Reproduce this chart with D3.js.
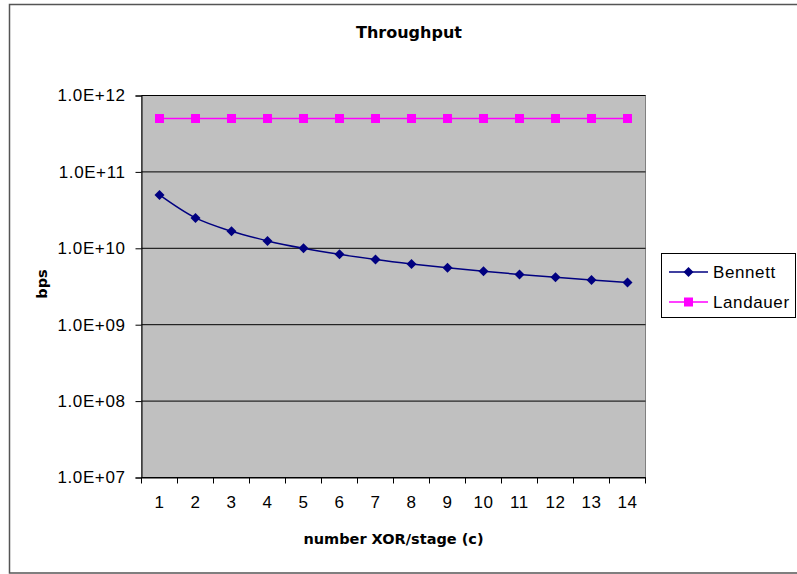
<!DOCTYPE html>
<html>
<head>
<meta charset="utf-8">
<script src="https://cdn.jsdelivr.net/npm/d3@7/dist/d3.min.js"></script>
<style>
  html, body { margin: 0; padding: 0; background: #fff; }
  svg { display: block; }
  .tick text { font-family: "Liberation Sans", Arial, sans-serif; }
</style>
</head>
<body>
<svg id="chart" width="797" height="574"></svg>
<script>
// Stages per XOR (category axis)
const categories = [1, 2, 3, 4, 5, 6, 7, 8, 9, 10, 11, 12, 13, 14];
// Throughput in bits per second
const bennett = [5.0e10, 2.5e10, 1.67e10, 1.25e10, 1.0e10, 8.33e9, 7.14e9,
                 6.25e9, 5.56e9, 5.0e9, 4.55e9, 4.17e9, 3.85e9, 3.57e9];
const landauer = [5.0e11, 5.0e11, 5.0e11, 5.0e11, 5.0e11, 5.0e11, 5.0e11,
                  5.0e11, 5.0e11, 5.0e11, 5.0e11, 5.0e11, 5.0e11, 5.0e11];
const yTicks = [1e7, 1e8, 1e9, 1e10, 1e11, 1e12];
const yTickLabels = ["1.0E+07", "1.0E+08", "1.0E+09", "1.0E+10", "1.0E+11", "1.0E+12"];
const seriesNames = ["Bennett", "Landauer"];

const W = 797, H = 574;
const plot = { left: 141.5, top: 95.5, right: 645.5, bottom: 477.5 };
const FONT = '"Liberation Sans", Arial, sans-serif';

const svg = d3.select("#chart");

// Chart frame
svg.append("rect")
  .attr("x", 9.5).attr("y", 4.5)
  .attr("width", W + 10).attr("height", 568.5)
  .attr("fill", "#fff").attr("stroke", "#555").attr("stroke-width", 1.5);

const x = d3.scaleBand().domain(categories).range([plot.left, plot.right]);
const y = d3.scaleLog().domain([1e7, 1e12]).range([plot.bottom, plot.top]);

// Plot area
svg.append("rect")
  .attr("x", plot.left).attr("y", plot.top)
  .attr("width", plot.right - plot.left).attr("height", plot.bottom - plot.top)
  .attr("fill", "#c0c0c0").attr("stroke", "#808080").attr("stroke-width", 1);

// Horizontal gridlines
svg.append("g").selectAll("line")
  .data(yTicks)
  .join("line")
  .attr("x1", plot.left).attr("x2", plot.right)
  .attr("y1", d => y(d)).attr("y2", d => y(d))
  .attr("stroke", "#000").attr("stroke-width", 1);

// Y axis
const yAxis = svg.append("g")
  .attr("transform", `translate(${plot.left},0)`)
  .call(d3.axisLeft(y).tickValues(yTicks)
    .tickFormat((d, i) => yTickLabels[i]).tickSizeOuter(0).tickSize(6).tickPadding(10));
yAxis.selectAll("text").attr("font-size", 17).attr("letter-spacing", 0.6).attr("fill", "#000");
yAxis.selectAll("line, path").attr("stroke", "#000");

// X axis: ticks on category boundaries
const xAxis = svg.append("g")
  .attr("transform", `translate(0,${plot.bottom})`)
  .call(d3.axisBottom(x).tickSize(0).tickPadding(18));
xAxis.select(".domain").attr("stroke", "#000");
xAxis.selectAll("text").attr("font-size", 17).attr("letter-spacing", 0.6).attr("fill", "#000");
const bounds = categories.map(c => x(c)).concat([x(categories[categories.length - 1]) + x.bandwidth()]);
svg.append("g").selectAll("line")
  .data(bounds)
  .join("line")
  .attr("x1", d => d).attr("x2", d => d)
  .attr("y1", plot.bottom).attr("y2", plot.bottom + 6)
  .attr("stroke", "#000");

const cx = d => x(d) + x.bandwidth() / 2;

// Landauer series
svg.append("path")
  .datum(categories.map((c, i) => [cx(c), y(landauer[i])]))
  .attr("d", d3.line())
  .attr("fill", "none").attr("stroke", "#ff00ff").attr("stroke-width", 1.5);
svg.append("g").selectAll("rect")
  .data(categories)
  .join("rect")
  .attr("x", (c) => cx(c) - 4.5).attr("y", (c, i) => y(landauer[i]) - 4.5)
  .attr("width", 9).attr("height", 9)
  .attr("fill", "#ff00ff");

// Bennett series (smoothed)
svg.append("path")
  .datum(categories.map((c, i) => [cx(c), y(bennett[i])]))
  .attr("d", d3.line().curve(d3.curveCatmullRom.alpha(0.5)))
  .attr("fill", "none").attr("stroke", "#000080").attr("stroke-width", 1.5);
const diamond = s => `M0,${-s}L${s},0L0,${s}L${-s},0Z`;
svg.append("g").selectAll("path")
  .data(categories)
  .join("path")
  .attr("transform", (c, i) => `translate(${cx(c)},${y(bennett[i])})`)
  .attr("d", diamond(5))
  .attr("fill", "#000080");

// Titles
svg.append("text")
  .attr("x", 409).attr("y", 38)
  .attr("text-anchor", "middle")
  .attr("font-family", "DejaVu Sans, sans-serif").attr("font-weight", "bold")
  .attr("font-size", 16)
  .text("Throughput");

svg.append("text")
  .attr("x", 393.5).attr("y", 544)
  .attr("text-anchor", "middle")
  .attr("font-family", "DejaVu Sans, sans-serif").attr("font-weight", "bold")
  .attr("font-size", 14.5)
  .text("number XOR/stage (c)");

svg.append("text")
  .attr("transform", `translate(47,${284}) rotate(-90)`)
  .attr("text-anchor", "middle")
  .attr("font-family", "DejaVu Sans, sans-serif").attr("font-weight", "bold")
  .attr("font-size", 14.5)
  .text("bps");

// Legend
const lg = svg.append("g");
lg.append("rect")
  .attr("x", 661.5).attr("y", 253.5).attr("width", 134).attr("height", 64)
  .attr("fill", "#fff").attr("stroke", "#000");
const legendRows = [
  { name: seriesNames[0], color: "#000080", shape: "diamond", y: 272 },
  { name: seriesNames[1], color: "#ff00ff", shape: "square", y: 302 }
];
legendRows.forEach(r => {
  lg.append("line").attr("x1", 669).attr("x2", 708)
    .attr("y1", r.y).attr("y2", r.y).attr("stroke", r.color).attr("stroke-width", 1.5);
  if (r.shape === "diamond") {
    lg.append("path").attr("transform", `translate(688.5,${r.y})`).attr("d", diamond(5)).attr("fill", r.color);
  } else {
    lg.append("rect").attr("x", 684).attr("y", r.y - 4.5).attr("width", 9).attr("height", 9).attr("fill", r.color);
  }
  lg.append("text").attr("x", 713).attr("y", r.y + 6)
    .attr("font-family", FONT).attr("font-size", 17).attr("letter-spacing", 0.6)
    .text(r.name);
});
</script>
</body>
</html>
